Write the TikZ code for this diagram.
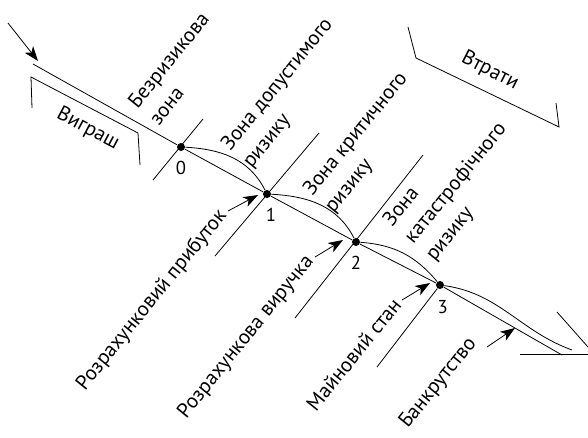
\documentclass[tikz,border=0pt]{standalone}
\usepackage{fontspec}
\setmainfont{PT Sans}
\usepackage{tikz}
\usetikzlibrary{arrows.meta, positioning}
\tikzstyle{arrow} = [-{Stealth[length=11pt,width=8pt,inset=3pt]}]
\tikzstyle{dot} = [circle, fill=black, inner sep=0pt, minimum size=6pt]
\tikzstyle{zone} = [font=\fontsize{15.5}{20.5}\selectfont, rotate=51, align=left, anchor=south west, inner sep=0pt]
\tikzstyle{result} = [font=\fontsize{15.5}{20}\selectfont, rotate=51, anchor=east, inner sep=1pt]
\tikzstyle{side} = [font=\fontsize{15.5}{20}\selectfont, inner sep=0pt]
\tikzstyle{num} = [font=\fontsize{14}{16}\selectfont, inner sep=0pt]

\begin{document}
\begin{tikzpicture}[x=0.75pt, y=0.75pt, line width=0.6pt]
    \useasboundingbox (0,0) rectangle (588,-437);

    % Main line and points
    \coordinate (start) at (33,-64);
    \coordinate (entry) at (38,-61);
    \coordinate (tail) at (8,-23);
    \coordinate (finish) at (562,-355);
    \coordinate (curveend) at (572,-350);
    \node[dot] (p0) at (181,-147) {};
    \node[dot] (p1) at (267,-194) {};
    \node[dot] (p2) at (356,-242) {};
    \node[dot] (p3) at (440,-285) {};
    \draw (start) -- (p0) -- (p1) -- (p2) -- (p3) -- (finish);
    \draw[arrow] (tail) -- (entry);

    % Zone curves
    \draw (p0) to[out=-3, in=117] (p1);
    \draw (p1) to[out=-3, in=117] (p2);
    \draw (p2) to[out=-4, in=130] (p3);
    \draw (p3) to[out=-8, in=160] (curveend);

    % Point numbers
    \node[num, below=7pt of p0] (n0) {0};
    \node[num, below=7pt of p1, xshift=3pt] (n1) {1};
    \node[num, below=7pt of p2] (n2) {2};
    \node[num, below=8pt of p3, xshift=2pt] (n3) {3};

    % Cross lines
    \coordinate (c0a) at (153,-180);
    \coordinate (c0b) at (203,-119);
    \coordinate (c1a) at (215,-256);
    \coordinate (c1b) at (319,-133);
    \coordinate (c2a) at (295,-318);
    \coordinate (c2b) at (423,-155);
    \coordinate (c3a) at (377,-367);
    \draw (c0a) -- (c0b);
    \draw (c1a) -- (c1b);
    \draw (c2a) -- (c2b);
    \draw (c3a) -- (p3);

    % Zone labels
    \node[zone] (z0) at (159,-127) {Безризикова\\зона};
    \node[zone] (z1) at (255,-172) {Зона допустимого\\ризику};
    \node[zone] (z2) at (337,-217) {Зона критичного\\ризику};
    \node[zone] (z3) at (438,-265) {Зона\\катастрофічного\\ризику};

    % Results with arrows
    \coordinate (a1) at (228,-211);
    \coordinate (a2) at (315,-257);
    \coordinate (a3) at (402,-300);
    \coordinate (a4) at (487,-347);
    \coordinate (t4) at (515,-328);
    \draw[arrow] (a1) -- (258,-195) coordinate (t1);
    \draw[arrow] (a2) -- (343,-240) coordinate (t2);
    \draw[arrow] (a3) -- (430,-283) coordinate (t3);
    \draw[arrow] (a4) -- (t4);
    \node[result, left=3pt of a1, anchor=east] (r1) {Розрахунковий прибуток};
    \node[result, left=3pt of a2, anchor=east] (r2) {Розрахункова виручка};
    \node[result, left=3pt of a3, anchor=east] (r3) {Майновий стан};
    \node[result] (r4) at (474,-339) {Банкрутство};

    % Gain and loss brackets
    \coordinate (g1) at (32,-108);
    \coordinate (g2) at (31,-77);
    \coordinate (g3) at (138,-133);
    \coordinate (g4) at (140,-165);
    \draw (g1) -- (g2) -- (g3) -- (g4);
    \node[side, rotate=-28] (gain) at (88,-129) {Виграш};
    \coordinate (l1) at (408,-27);
    \coordinate (l2) at (416,-58);
    \coordinate (l3) at (559,-127);
    \coordinate (l4) at (556,-103);
    \draw (l1) -- (l2) -- (l3) -- (l4);
    \node[side, rotate=-27] (loss) at (490,-71) {Втрати};

    % Bankruptcy end
    \coordinate (k1) at (557,-312);
    \coordinate (k2) at (588,-347);
    \coordinate (h1) at (520,-354);
    \coordinate (h2) at (588,-354);
    \draw (k1) -- (k2);
    \draw (h1) -- (h2);
\end{tikzpicture}
\end{document}
